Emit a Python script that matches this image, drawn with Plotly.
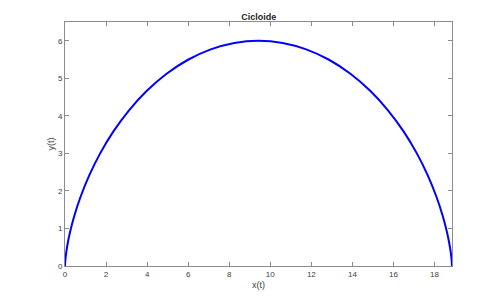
import plotly.graph_objects as go

# Cycloid points (x(t), y(t))
x_vals = [0.0, 0.0038, 0.0301, 0.1004, 0.2349, 0.4508, 0.7627, 1.1810, 1.7124,
          2.3591, 3.1189, 3.9851, 4.9472, 5.9909, 7.0986, 8.2505, 9.4248,
          10.5991, 11.7510, 12.8587, 13.9024, 14.8645, 15.7307, 16.4905, 17.1372,
          17.6686, 18.0869, 18.3988, 18.6147, 18.7492, 18.8195, 18.8458, 18.8496]
y_vals = [0.0, 0.0576, 0.2284, 0.5056, 0.8787, 1.3333, 1.8520, 2.4147, 3.0,
          3.5853, 4.1480, 4.6667, 5.1213, 5.4944, 5.7716, 5.9424, 6.0,
          5.9424, 5.7716, 5.4944, 5.1213, 4.6667, 4.1480, 3.5853, 3.0,
          2.4147, 1.8520, 1.3333, 0.8787, 0.5056, 0.2284, 0.0576, 0.0]
x_ticks = [0, 2, 4, 6, 8, 10, 12, 14, 16, 18]
y_ticks = [0, 1, 2, 3, 4, 5, 6]
title = "Cicloide"
x_label = "x(t)"
y_label = "y(t)"

fig = go.Figure()
fig.add_trace(go.Scatter(x=x_vals, y=y_vals, mode="lines",
                         line=dict(color="#0000FF", width=2, shape="spline", smoothing=0.6),
                         hoverinfo="skip"))

axis_common = dict(showline=True, linecolor="#8c8c8c", linewidth=1, mirror="ticks",
                   ticks="inside", ticklen=4, tickcolor="#8c8c8c", showgrid=False,
                   zeroline=False, tickfont=dict(family="Arial, Liberation Sans", size=8, color="#404040"))

fig.update_layout(
    width=500, height=301,
    margin=dict(l=65, r=48, t=22, b=33),
    paper_bgcolor="white", plot_bgcolor="white",
    showlegend=False,
    title=dict(text="<b>" + title + "</b>", x=0.5175, xanchor="center", y=0.945, yanchor="middle",
               font=dict(family="Arial, Liberation Sans", size=9, color="#262626")),
    xaxis=dict(range=[0, 18.8496], tickvals=x_ticks,
               title=dict(text=x_label, standoff=4, font=dict(family="Arial, Liberation Sans", size=9, color="#404040")),
               **axis_common),
    yaxis=dict(range=[0, 6.5], tickvals=y_ticks,
               title=dict(text=y_label, standoff=1, font=dict(family="Arial, Liberation Sans", size=9, color="#404040")),
               **axis_common),
)

fig.write_html("out.html")
